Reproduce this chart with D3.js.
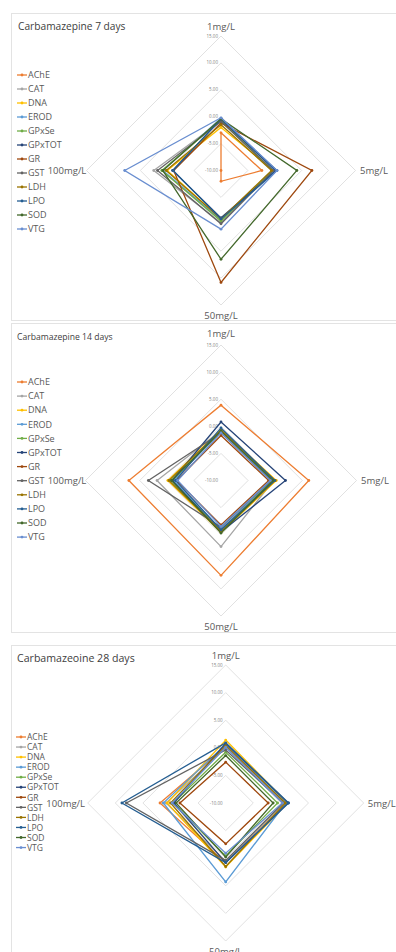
<!DOCTYPE html>
<html>
<head>
<meta charset="utf-8">
<script src="https://cdn.jsdelivr.net/npm/d3@7"></script>
<style>
  html, body { margin: 0; padding: 0; background: #ffffff; }
  svg { display: block; }
  text { font-family: "Open Sans", "Liberation Sans", sans-serif; fill: #595959; }
</style>
</head>
<body>
<svg id="chart" width="396" height="952"></svg>
<script>
// ---------- data ----------
const axes = ["1mg/L", "5mg/L", "50mg/L", "100mg/L"];
const seriesNames = ["AChE", "CAT", "DNA", "EROD", "GPxSe", "GPxTOT", "GR", "GST", "LDH", "LPO", "SOD", "VTG"];
const seriesColors = ["#ED7D31", "#A5A5A5", "#FFC000", "#5B9BD5", "#70AD47", "#264478", "#9E480E", "#636363", "#997300", "#255E91", "#43682B", "#698ED0"];
const tickValues = [-10, -5, 0, 5, 10, 15];
const tickLabels = ["-10.00", "-5.00", "0.00", "5.00", "10.00", "15.00"];
const titles = ["Carbamazepine 7 days", "Carbamazepine 14 days", "Carbamazeoine 28 days"];

// values per series: [1mg/L, 5mg/L, 50mg/L, 100mg/L]
const values7 = [
  [-3.0, -2.4, -8.0, -10.0],
  [-0.8, -0.5, -0.3, 2.5],
  [-2.0, -0.2, -1.0, 0.0],
  [-0.3, 0.0, -0.8, 0.8],
  [-0.6, -0.4, -0.6, 1.0],
  [-0.5, 0.2, -1.2, -1.0],
  [-1.2, 6.9, 10.8, -1.2],
  [-0.9, -0.3, -0.1, 1.8],
  [-1.5, -0.6, -1.0, 0.2],
  [-0.4, 0.4, -1.0, -1.1],
  [-0.4, 4.1, 6.5, 0.8],
  [-0.2, 0.4, 0.9, 7.9]
];
const values14 = [
  [3.9, 6.2, 7.5, 7.0],
  [-0.8, -0.3, 2.2, 1.8],
  [-0.6, 0.2, -0.4, -0.2],
  [-1.0, -0.6, -1.0, -1.2],
  [-0.9, -0.4, -0.8, -0.8],
  [0.8, 1.9, -0.5, -1.0],
  [-1.7, -1.2, -1.8, -1.8],
  [-1.2, -0.8, -1.4, 3.4],
  [-0.7, 0.0, -0.6, -0.4],
  [-0.3, -0.1, -0.9, -1.6],
  [-0.9, -0.4, -0.3, -0.9],
  [-1.2, -0.9, -1.5, -2.0]
];
const values28 = [
  [0.2, 0.5, 0.8, 1.9],
  [0.0, 0.6, 0.6, 0.8],
  [1.4, 1.2, 1.6, 0.6],
  [0.6, 0.9, 4.3, 1.3],
  [-0.8, -0.6, -0.4, -0.5],
  [0.8, 1.3, 0.8, -0.6],
  [-2.6, -2.3, -2.6, -1.7],
  [-0.4, 0.4, 0.4, 8.0],
  [0.4, 0.8, 1.5, 0.0],
  [0.9, 1.4, 0.8, 8.8],
  [-1.4, -1.4, -0.2, -1.0],
  [0.1, 0.3, -0.9, -0.3]
];
const allValues = [values7, values14, values28];

// ---------- layout ----------
const panels = [
  { top: 13, bottom: 320, cx: 221, cy: 170.5, R: 134.5, titleX: 18, titleY: 29.5, titleSize: 10.2,
    legX: 17, legY: 75, legStep: 14, legSize: 9, labOff: [{dx:0,dy:-144}, {dx:153,dy:0}, {dx:0,dy:145}, {dx:-154,dy:0}] },
  { top: 323, bottom: 632, cx: 221, cy: 480.5, R: 135.5, titleX: 17, titleY: 340, titleSize: 8.6,
    legX: 17, legY: 382, legStep: 14.1, legSize: 9, labOff: [{dx:0,dy:-147}, {dx:154,dy:0}, {dx:0,dy:146}, {dx:-154,dy:0}] },
  { top: 645, bottom: 960, cx: 225.7, cy: 803, R: 138, titleX: 17, titleY: 662, titleSize: 10.6,
    legX: 16, legY: 737, legStep: 10.05, legSize: 8.5, labOff: [{dx:0,dy:-148}, {dx:156,dy:0}, {dx:0,dy:148}, {dx:-160,dy:0}] }
];

const svg = d3.select("#chart");
const angle = i => -Math.PI / 2 + i * Math.PI / 2;

panels.forEach((p, k) => {
  const g = svg.append("g");
  // panel border
  g.append("rect")
    .attr("x", 11.5).attr("y", p.top + 0.5)
    .attr("width", 396).attr("height", p.bottom - p.top)
    .attr("fill", "none").attr("stroke", "#E3E3E3").attr("stroke-width", 1);

  g.append("text")
    .attr("x", p.titleX).attr("y", p.titleY)
    .attr("font-size", p.titleSize).attr("font-weight", 400)
    .style("fill", "#404040")
    .text(titles[k]);

  const r = d3.scaleLinear().domain([-10, 15]).range([0, p.R]).clamp(true);
  const pt = (v, i) => [p.cx + r(v) * Math.cos(angle(i)), p.cy + r(v) * Math.sin(angle(i))];
  const line = d3.line();

  // grid rings
  tickValues.forEach(t => {
    const pts = axes.map((a, i) => pt(t, i));
    g.append("path")
      .attr("d", line(pts) + "Z")
      .attr("fill", "none").attr("stroke", "#D9D9D9").attr("stroke-width", 0.8);
  });
  // tick labels
  tickValues.forEach((t, j) => {
    const [x, y] = pt(t, 0);
    g.append("text")
      .attr("x", x - 3).attr("y", y + 1.5)
      .attr("text-anchor", "end").attr("font-size", 4.5)
      .style("fill", "#7F7F7F")
      .text(tickLabels[j]);
  });
  // axis labels
  axes.forEach((a, i) => {
    const o = p.labOff[i];
    g.append("text")
      .attr("x", p.cx + o.dx).attr("y", p.cy + o.dy + 3.5)
      .attr("text-anchor", "middle").attr("font-size", 9.5)
      .text(a);
  });

  // series
  const vals = allValues[k];
  seriesNames.forEach((name, s) => {
    const pts = vals[s].map((v, i) => pt(v, i));
    g.append("path")
      .attr("d", line(pts) + "Z")
      .attr("fill", "none").attr("stroke", seriesColors[s])
      .attr("stroke-width", 1.3).attr("stroke-linejoin", "miter");
    g.selectAll(null).data(pts).enter().append("circle")
      .attr("cx", d => d[0]).attr("cy", d => d[1]).attr("r", 1.4)
      .attr("fill", seriesColors[s]);
  });

  // legend
  seriesNames.forEach((name, s) => {
    const y = p.legY + s * p.legStep;
    g.append("line")
      .attr("x1", p.legX).attr("x2", p.legX + 10)
      .attr("y1", y).attr("y2", y)
      .attr("stroke", seriesColors[s]).attr("stroke-width", 1.3);
    g.append("circle").attr("cx", p.legX + 5).attr("cy", y).attr("r", 1.4).attr("fill", seriesColors[s]);
    g.append("text")
      .attr("x", p.legX + 11).attr("y", y + 3.2)
      .attr("font-size", p.legSize)
      .text(name);
  });
});
</script>
</body>
</html>
